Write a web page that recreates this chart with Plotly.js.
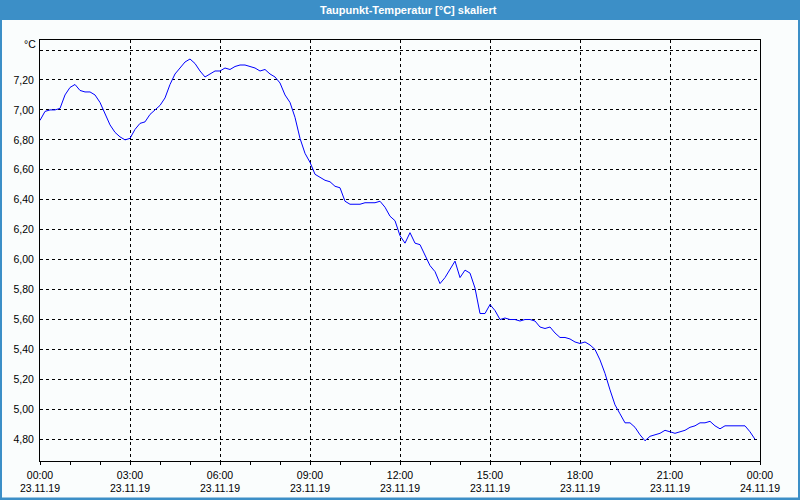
<!DOCTYPE html>
<html>
<head>
<meta charset="utf-8">
<script src="https://cdn.plot.ly/plotly-3.0.1.min.js"></script>
<style>
html,body{margin:0;padding:0;background:#fafdfd;}
#chart{width:800px;height:500px;}
</style>
</head>
<body>
<div id="chart"></div>
<script>
// Data: dew point temperature, 10-minute samples from 23.11.19 00:00
const startTime = "2019-11-23T00:00:00";
const stepMinutes = 10;
const dewPoint = [
  6.93, 6.99, 7.00, 7.00, 7.01, 7.10, 7.15, 7.17, 7.13, 7.12,
  7.12, 7.10, 7.05, 6.97, 6.90, 6.85, 6.82, 6.80, 6.81, 6.87,
  6.91, 6.92, 6.97, 7.00, 7.03, 7.08, 7.17, 7.24, 7.28, 7.32,
  7.34, 7.31, 7.26, 7.22, 7.24, 7.26, 7.26, 7.28, 7.27, 7.29,
  7.30, 7.30, 7.29, 7.28, 7.26, 7.27, 7.24, 7.22, 7.18, 7.10,
  7.05, 6.95, 6.81, 6.71, 6.65, 6.57, 6.55, 6.53, 6.52, 6.49,
  6.48, 6.39, 6.37, 6.37, 6.37, 6.38, 6.38, 6.38, 6.39, 6.35,
  6.29, 6.26, 6.16, 6.11, 6.18, 6.11, 6.10, 6.03, 5.96, 5.92,
  5.84, 5.88, 5.94, 5.99, 5.88, 5.93, 5.91, 5.81, 5.64, 5.64,
  5.70, 5.66, 5.60, 5.61, 5.60, 5.60, 5.59, 5.60, 5.60, 5.59,
  5.55, 5.54, 5.55, 5.51, 5.48, 5.48, 5.47, 5.45, 5.44, 5.45,
  5.43, 5.40, 5.33, 5.24, 5.13, 5.03, 4.97, 4.91, 4.91, 4.88,
  4.83, 4.79, 4.82, 4.83, 4.84, 4.86, 4.85, 4.84, 4.85, 4.86,
  4.88, 4.89, 4.91, 4.91, 4.92, 4.89, 4.87, 4.89, 4.89, 4.89,
  4.89, 4.89, 4.85, 4.80
];
const xTickVals = [
  "2019-11-23 00:00", "2019-11-23 03:00", "2019-11-23 06:00",
  "2019-11-23 09:00", "2019-11-23 12:00", "2019-11-23 15:00",
  "2019-11-23 18:00", "2019-11-23 21:00", "2019-11-24 00:00"
];
const xTickText = [
  "00:00<br>23.11.19", "03:00<br>23.11.19", "06:00<br>23.11.19",
  "09:00<br>23.11.19", "12:00<br>23.11.19", "15:00<br>23.11.19",
  "18:00<br>23.11.19", "21:00<br>23.11.19", "00:00<br>24.11.19"
];
const yTickVals = [4.8, 5.0, 5.2, 5.4, 5.6, 5.8, 6.0, 6.2, 6.4, 6.6, 6.8, 7.0, 7.2, 7.4];
const yTickText = ["4,80", "5,00", "5,20", "5,40", "5,60", "5,80", "6,00", "6,20", "6,40", "6,60", "6,80", "7,00", "7,20", ""];
const chartTitle = "Taupunkt-Temperatur [°C] skaliert";
const unitLabel = "°C";

function pad(n){return (n<10?"0":"")+n;}
const t0 = new Date(startTime + "Z").getTime();
const times = dewPoint.map((_, i) => {
  const d = new Date(t0 + i * stepMinutes * 60000);
  return d.getUTCFullYear()+"-"+pad(d.getUTCMonth()+1)+"-"+pad(d.getUTCDate())+" "+pad(d.getUTCHours())+":"+pad(d.getUTCMinutes());
});

const W = 800, H = 500, L = 40, R = 40, T = 40, B = 39;
const pw = W - L - R, ph = H - T - B;
function px2x(px){return (px - L) / pw;}
function py2y(py){return (H - B - py) / ph;}
const blue = "#3c8fc7";
const bg = "#fafdfd";
const font = "Liberation Sans, Arial, sans-serif";

const trace = {
  x: times, y: dewPoint, type: "scatter", mode: "lines",
  line: {color: "#0000ff", width: 1}, hoverinfo: "skip", showlegend: false
};

const layout = {
  width: W, height: H,
  margin: {l: L, r: R, t: T, b: B, pad: 0},
  paper_bgcolor: bg, plot_bgcolor: bg,
  font: {family: font, size: 10, color: "#000"},
  showlegend: false,
  xaxis: {
    type: "date",
    range: ["2019-11-23 00:00", "2019-11-24 00:00"],
    tickmode: "array", tickvals: xTickVals, ticktext: xTickText,
    ticks: "outside", ticklen: 3, tickcolor: "#000", tickwidth: 1,
    minor: {tickmode: "linear", tick0: "2019-11-23 00:00", dtick: 3600000, ticks: "outside", ticklen: 3, tickcolor: "#000", showgrid: false},
    showgrid: true, gridcolor: "#000", gridwidth: 1, griddash: "3px,3px",
    showline: true, linecolor: "#000", linewidth: 1, mirror: true,
    zeroline: false, tickfont: {family: font, size: 10.5, color: "#000"},
    ticklabelstandoff: 1, fixedrange: true
  },
  yaxis: {
    range: [4.655, 7.467],
    tickmode: "array", tickvals: yTickVals, ticktext: yTickText,
    ticks: "", showgrid: true, gridcolor: "#000", gridwidth: 1, griddash: "3px,3px",
    showline: true, linecolor: "#000", linewidth: 1, mirror: true,
    zeroline: false, tickfont: {family: font, size: 10.5, color: "#000"},
    ticklabelstandoff: 3, fixedrange: true
  },
  shapes: [
    {type: "rect", xref: "paper", yref: "paper", x0: px2x(0), x1: px2x(800), y0: py2y(20), y1: py2y(0), fillcolor: blue, line: {width: 0}, layer: "above"},
    {type: "rect", xref: "paper", yref: "paper", x0: px2x(0), x1: px2x(2), y0: py2y(500), y1: py2y(20), fillcolor: blue, line: {width: 0}, layer: "above"},
    {type: "rect", xref: "paper", yref: "paper", x0: px2x(798), x1: px2x(800), y0: py2y(500), y1: py2y(20), fillcolor: blue, line: {width: 0}, layer: "above"},
    {type: "rect", xref: "paper", yref: "paper", x0: px2x(0), x1: px2x(800), y0: py2y(500), y1: py2y(497.5), fillcolor: blue, line: {width: 0}, layer: "above"}
  ],
  annotations: [
    {text: "<b>" + chartTitle + "</b>", xref: "paper", yref: "paper", x: px2x(409), y: py2y(10), xanchor: "center", yanchor: "middle", showarrow: false, font: {family: font, size: 11, color: "#fff"}},
    {text: unitLabel, xref: "paper", yref: "paper", x: px2x(38), y: py2y(44), xanchor: "right", yanchor: "middle", showarrow: false, font: {family: font, size: 10.5, color: "#000"}}
  ]
};

Plotly.newPlot("chart", [trace], layout, {displayModeBar: false, staticPlot: true});
</script>
</body>
</html>
